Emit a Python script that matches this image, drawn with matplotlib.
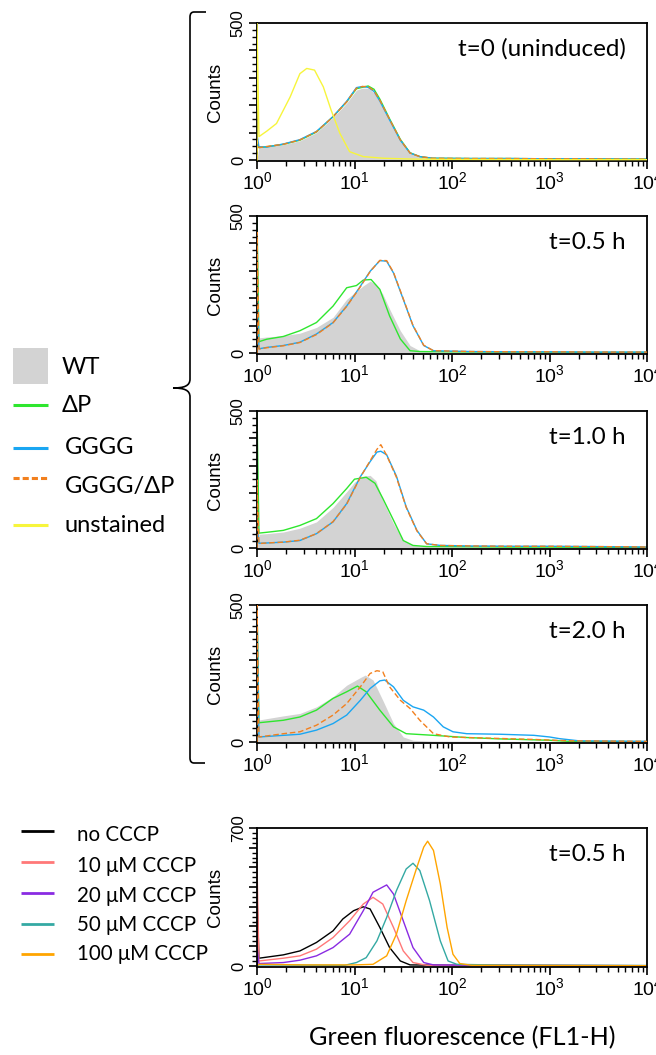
import numpy as np
import matplotlib
matplotlib.use("Agg")
import matplotlib.pyplot as plt
from matplotlib.path import Path
from matplotlib.patches import PathPatch, Rectangle
from matplotlib.ticker import FixedLocator, FuncFormatter, LogLocator, NullFormatter

plt.rcParams['font.family'] = ['Liberation Sans', 'DejaVu Sans']
plt.rcParams['mathtext.fontset'] = 'custom'
plt.rcParams['mathtext.rm'] = 'Liberation Sans'
plt.rcParams['mathtext.it'] = 'Liberation Sans:italic'
plt.rcParams['mathtext.bf'] = 'Liberation Sans:bold'

# ---------------- data (log10 fluorescence positions, counts) ----------------
panel_titles = ['t=0 (uninduced)', 't=0.5 h', 't=1.0 h', 't=2.0 h']
top_labels = ['WT', '\u0394P', 'GGGG', 'GGGG/\u0394P', 'unstained']
top_colors = ['#d3d3d3', '#2ee62e', '#1aa6f2', '#f2801e', '#f7f53c']

# panel 1 : t=0
p1_wt_lx = [0, 0.02, 0.1, 0.27, 0.44, 0.61, 0.78, 0.92, 1.02, 1.08, 1.14, 1.20, 1.26, 1.36, 1.47, 1.57, 1.67, 1.8, 2.2, 3.0, 4.0]
p1_wt_y = [0, 48, 50, 56, 70, 100, 155, 208, 255, 262, 262, 245, 212, 142, 70, 24, 10, 6, 4, 2, 1]
p1_lx = [0, 0, 0.02, 0.1, 0.27, 0.44, 0.61, 0.78, 0.92, 1.02, 1.08, 1.14, 1.20, 1.26, 1.36, 1.47, 1.57, 1.67, 1.8, 2.2, 2.6, 3.0, 3.4, 3.8, 4.0]
p1_dp_y = [0, 60, 45, 48, 57, 72, 102, 158, 212, 260, 265, 270, 258, 222, 150, 75, 26, 12, 6, 5, 5, 4, 4, 3, 3]
p1_gggg_y = [0, 90, 48, 47, 58, 74, 104, 158, 214, 264, 268, 265, 250, 215, 146, 72, 25, 12, 6, 5, 5, 4, 4, 3, 3]
p1_ggdp_y = [0, 70, 45, 49, 57, 73, 103, 157, 212, 262, 268, 268, 252, 218, 148, 73, 25, 12, 6, 5, 5, 4, 4, 3, 3]
p1_un_lx = [0, 0, 0.02, 0.10, 0.20, 0.34, 0.44, 0.51, 0.59, 0.68, 0.76, 0.85, 0.95, 1.09, 1.3, 1.6, 2.0, 3.0, 4.0]
p1_un_y = [0, 500, 85, 105, 133, 230, 315, 334, 328, 267, 182, 97, 30, 12, 6, 3, 2, 1, 1]

# panel 2 : t=0.5 h
p2_wt_lx = [0, 0.02, 0.1, 0.27, 0.44, 0.61, 0.78, 0.92, 1.02, 1.09, 1.16, 1.22, 1.29, 1.36, 1.47, 1.57, 1.67, 1.8, 2.2, 3.0, 4.0]
p2_wt_y = [0, 55, 58, 63, 72, 93, 130, 196, 225, 245, 262, 250, 215, 160, 81, 27, 8, 4, 2, 1, 1]
p2_dp_lx = [0, 0, 0.02, 0.1, 0.27, 0.44, 0.61, 0.78, 0.92, 1.02, 1.09, 1.17, 1.26, 1.36, 1.47, 1.57, 1.67, 2.0, 2.5, 3.0, 3.5, 4.0]
p2_dp_y = [0, 500, 41, 50, 60, 81, 111, 171, 238, 246, 266, 268, 232, 135, 51, 8, 5, 4, 3, 3, 2, 2]
p2_gg_lx = [0, 0, 0.02, 0.1, 0.27, 0.44, 0.61, 0.78, 0.92, 1.05, 1.16, 1.26, 1.33, 1.40, 1.50, 1.60, 1.71, 1.81, 2.2, 2.6, 3.0, 3.5, 4.0]
p2_gggg_y = [0, 270, 15, 20, 27, 39, 69, 111, 171, 238, 298, 337, 335, 292, 196, 99, 27, 8, 5, 4, 4, 3, 3]
p2_ggdp_y = [0, 440, 14, 19, 26, 38, 67, 110, 170, 236, 297, 338, 337, 294, 198, 100, 28, 8, 5, 4, 4, 3, 3]

# panel 3 : t=1.0 h
p3_wt_lx = [0, 0.02, 0.1, 0.27, 0.44, 0.61, 0.78, 0.92, 1.0, 1.09, 1.16, 1.22, 1.29, 1.40, 1.50, 1.60, 1.8, 2.5, 4.0]
p3_wt_y = [0, 50, 52, 58, 72, 95, 148, 205, 240, 262, 265, 245, 174, 88, 27, 9, 4, 2, 1]
p3_dp_lx = [0, 0, 0.02, 0.1, 0.27, 0.44, 0.61, 0.78, 0.92, 1.0, 1.12, 1.21, 1.29, 1.40, 1.50, 1.60, 1.74, 2.2, 2.6, 3.0, 3.5, 4.0]
p3_dp_y = [0, 500, 54, 57, 64, 82, 107, 162, 217, 251, 258, 236, 181, 101, 27, 9, 5, 4, 3, 3, 2, 2]
p3_gg_lx = [0, 0, 0.02, 0.1, 0.27, 0.44, 0.61, 0.78, 0.92, 1.06, 1.16, 1.23, 1.27, 1.33, 1.43, 1.53, 1.64, 1.74, 1.88, 2.2, 2.6, 3.0, 3.4, 3.8, 4.0]
p3_gggg_y = [0, 88, 17, 18, 21, 27, 52, 95, 162, 260, 315, 350, 353, 340, 262, 150, 64, 15, 9, 7, 6, 6, 5, 4, 3]
p3_ggdp_y = [0, 248, 16, 18, 21, 28, 52, 96, 160, 258, 318, 360, 377, 338, 258, 148, 62, 15, 9, 7, 6, 6, 5, 4, 3]

# panel 4 : t=2.0 h
p4_wt_lx = [0, 0.02, 0.1, 0.27, 0.44, 0.61, 0.78, 0.92, 1.06, 1.11, 1.19, 1.29, 1.40, 1.50, 1.60, 1.8, 2.5, 4.0]
p4_wt_y = [0, 80, 85, 95, 104, 128, 165, 207, 235, 244, 226, 152, 67, 18, 6, 3, 2, 1]
p4_dp_lx = [0, 0, 0.02, 0.27, 0.44, 0.61, 0.78, 0.92, 1.03, 1.12, 1.26, 1.40, 1.53, 1.81, 2.15, 2.49, 3.0, 3.2, 4.0]
p4_dp_y = [0, 500, 70, 79, 91, 116, 159, 183, 204, 183, 116, 55, 30, 24, 16, 11, 6, 2, 1]
p4_gggg_lx = [0, 0, 0.02, 0.27, 0.44, 0.61, 0.78, 0.92, 1.06, 1.16, 1.26, 1.31, 1.40, 1.50, 1.60, 1.71, 1.81, 1.91, 2.01, 2.15, 2.49, 2.84, 3.0, 3.1, 3.3, 4.0]
p4_gggg_y = [0, 500, 18, 24, 28, 43, 67, 98, 152, 195, 223, 226, 201, 152, 128, 116, 91, 55, 37, 30, 28, 24, 18, 12, 4, 2]
p4_ggdp_lx = [0, 0, 0.02, 0.27, 0.44, 0.61, 0.78, 0.92, 1.06, 1.16, 1.23, 1.29, 1.36, 1.47, 1.57, 1.67, 1.81, 1.98, 2.15, 2.84, 3.2, 4.0]
p4_ggdp_y = [0, 500, 18, 30, 37, 61, 98, 140, 201, 250, 260, 256, 201, 152, 122, 79, 30, 18, 16, 9, 4, 2]

# panel 5 : CCCP, t=0.5 h
cccp_title = 't=0.5 h'
cccp_labels = ['no CCCP', '10 \u03bcM CCCP', '20 \u03bcM CCCP', '50 \u03bcM CCCP', '100 \u03bcM CCCP']
cccp_colors = ['#000000', '#ff7878', '#8a2be2', '#34a9a3', '#ffa500']
c0_lx = [0, 0, 0.02, 0.27, 0.44, 0.61, 0.78, 0.88, 0.99, 1.09, 1.16, 1.26, 1.36, 1.47, 1.57, 2.0, 3.0, 4.0]
c0_y = [0, 360, 39, 56, 76, 119, 178, 238, 280, 300, 289, 195, 93, 25, 5, 3, 2, 1]
c10_lx = [0, 0, 0.02, 0.27, 0.44, 0.61, 0.78, 0.95, 1.09, 1.19, 1.29, 1.40, 1.50, 1.60, 1.74, 2.2, 3.0, 4.0]
c10_y = [0, 520, 25, 39, 51, 85, 144, 229, 314, 348, 314, 195, 76, 17, 3, 2, 2, 1]
c20_lx = [0, 0, 0.02, 0.27, 0.44, 0.61, 0.78, 0.95, 1.09, 1.19, 1.33, 1.40, 1.50, 1.60, 1.71, 1.81, 2.3, 3.0, 4.0]
c20_y = [0, 94, 12, 17, 29, 51, 93, 161, 280, 374, 411, 365, 229, 93, 17, 5, 3, 2, 1]
c50_lx = [0, 0.02, 0.5, 0.9, 1.02, 1.12, 1.23, 1.33, 1.43, 1.53, 1.60, 1.67, 1.77, 1.88, 1.96, 2.05, 2.5, 3.0, 4.0]
c50_y = [0, 5, 4, 3, 17, 42, 127, 246, 382, 492, 521, 484, 331, 127, 25, 8, 4, 3, 2]
c100_lx = [0, 0.02, 0.5, 1.0, 1.19, 1.33, 1.43, 1.53, 1.64, 1.71, 1.75, 1.81, 1.88, 1.95, 2.01, 2.08, 2.2, 3.0, 4.0]
c100_y = [0, 8, 5, 5, 8, 51, 161, 331, 501, 603, 633, 586, 416, 195, 59, 12, 3, 2, 1]

# ---------------- figure ----------------
W, H = 656, 1055
fig = plt.figure(figsize=(W / 100, H / 100), dpi=100)

# overlay axes in pixel coordinates (for legends / brace)
ov = fig.add_axes([0, 0, 1, 1])
ov.set_xlim(0, W)
ov.set_ylim(H, 0)
ov.axis('off')

AX_L, AX_R = 257, 647
panel_tops = [23, 216, 411, 605, 828]
PH = 138
LF = ['Lato', 'DejaVu Sans']

def make_ax(top, h=PH):
    return fig.add_axes([AX_L / W, 1 - (top + h) / H, (AX_R - AX_L) / W, h / H])

def style_ax(ax, ymax, title):
    ax.set_xscale('log')
    ax.set_xlim(1, 1e4)
    ax.set_ylim(-ymax * 0.008, ymax)
    ax.xaxis.set_major_locator(FixedLocator([1, 10, 100, 1000, 10000]))
    ax.xaxis.set_major_formatter(FuncFormatter(lambda v, p: r'$\mathregular{10^{%d}}$' % int(round(np.log10(v)))))
    ax.xaxis.set_minor_locator(LogLocator(base=10, subs=np.arange(2, 10), numticks=20))
    ax.xaxis.set_minor_formatter(NullFormatter())
    yt = list(range(0, ymax + 1, 100))
    ax.set_yticks(yt)
    ax.set_yticklabels([str(v) if v in (0, ymax) else '' for v in yt], rotation=90, va='center', fontsize=12)
    ax.yaxis.set_minor_locator(FixedLocator(list(range(0, ymax + 1, 25))))
    ax.tick_params(axis='x', which='major', length=6, width=1.2, labelsize=14, pad=1)
    ax.tick_params(axis='x', which='minor', length=3.5, width=1.0)
    ax.tick_params(axis='y', which='major', length=6, width=1.2, pad=2)
    ax.tick_params(axis='y', which='minor', length=3.5, width=1.0)
    for s in ax.spines.values():
        s.set_linewidth(1.3)
    ax.set_ylabel('Counts', fontsize=13.5)
    ax.yaxis.set_label_coords(-0.085, 0.5)
    ax.text(0.946, 0.81, title, transform=ax.transAxes, ha='right', va='center',
            fontsize=17.5, family=LF)

def X(lx):
    return 10 ** np.asarray(lx, dtype=float)

LW = 1.0
top_panels = [
    (p1_wt_lx, p1_wt_y, [(p1_lx, p1_dp_y), (p1_lx, p1_gggg_y), (p1_lx, p1_ggdp_y), (p1_un_lx, p1_un_y)]),
    (p2_wt_lx, p2_wt_y, [(p2_dp_lx, p2_dp_y), (p2_gg_lx, p2_gggg_y), (p2_gg_lx, p2_ggdp_y), None]),
    (p3_wt_lx, p3_wt_y, [(p3_dp_lx, p3_dp_y), (p3_gg_lx, p3_gggg_y), (p3_gg_lx, p3_ggdp_y), None]),
    (p4_wt_lx, p4_wt_y, [(p4_dp_lx, p4_dp_y), (p4_gggg_lx, p4_gggg_y), (p4_ggdp_lx, p4_ggdp_y), None]),
]

for i, (wlx, wy, series) in enumerate(top_panels):
    ax = make_ax(panel_tops[i])
    ax.fill_between(X(wlx), wy, 0, color=top_colors[0], lw=0, zorder=1)
    for j, s in enumerate(series):
        if s is None:
            continue
        lx, y = s
        k = j + 1
        if k == 3:
            ax.plot(X(lx), y, color=top_colors[k], lw=LW, dashes=(4, 2), zorder=3)
        elif k == 4:
            ax.plot(X(lx), y, color=top_colors[k], lw=LW, zorder=4)
        else:
            ax.plot(X(lx), y, color=top_colors[k], lw=LW, zorder=2 + (k == 2) * 0.5)
    style_ax(ax, 500, panel_titles[i])

ax5 = make_ax(panel_tops[4], 139)
for (lx, y), c in zip([(c0_lx, c0_y), (c10_lx, c10_y), (c20_lx, c20_y), (c50_lx, c50_y), (c100_lx, c100_y)], cccp_colors):
    ax5.plot(X(lx), y, color=c, lw=LW)
style_ax(ax5, 700, cccp_title)

fig.text(462 / W, 1 - 1038 / H, 'Green fluorescence (FL1-H)', ha='center', va='center',
         fontsize=18.2, family=LF)

# ---------------- top legend ----------------
leg_y = [367, 406, 447, 486, 525]
line_y = [367, 405, 448, 478, 525]
ov.add_patch(Rectangle((13, 348), 35, 36, color=top_colors[0], lw=0))
for k in range(1, 5):
    ov.plot([13, 48], [line_y[k]] * 2, color=top_colors[k], lw=2.2,
            dashes=(2, 1) if k == 3 else (None, None), solid_capstyle='butt', dash_capstyle='butt')
for k, lab in enumerate(top_labels):
    ov.text(62 if k < 2 else 65, leg_y[k], lab, ha='left', va='center', fontsize=17, family=LF)

# ---------------- bottom legend ----------------
b_line_y = [831, 862, 893, 924, 954]
b_text_y = [835, 866, 896, 925, 954]
for k, lab in enumerate(cccp_labels):
    ov.plot([21, 54], [b_line_y[k]] * 2, color=cccp_colors[k], lw=2.0, solid_capstyle='butt')
    ov.text(77, b_text_y[k], lab, ha='left', va='center', fontsize=14.8, family=LF)

# ---------------- brace ----------------
verts = [(206, 12), (194, 12), (190, 12), (190, 17), (190, 379),
         (190, 386), (184, 388), (173, 388), (184, 388), (190, 390), (190, 397),
         (190, 758), (190, 763), (194, 763), (205, 763)]
codes = [Path.MOVETO, Path.LINETO, Path.CURVE3, Path.CURVE3, Path.LINETO,
         Path.CURVE4, Path.CURVE4, Path.CURVE4, Path.CURVE4, Path.CURVE4, Path.CURVE4,
         Path.LINETO, Path.CURVE3, Path.CURVE3, Path.LINETO]
ov.add_patch(PathPatch(Path(verts, codes), fill=False, lw=1.2, color='black'))

fig.savefig('out.png', dpi=100)
